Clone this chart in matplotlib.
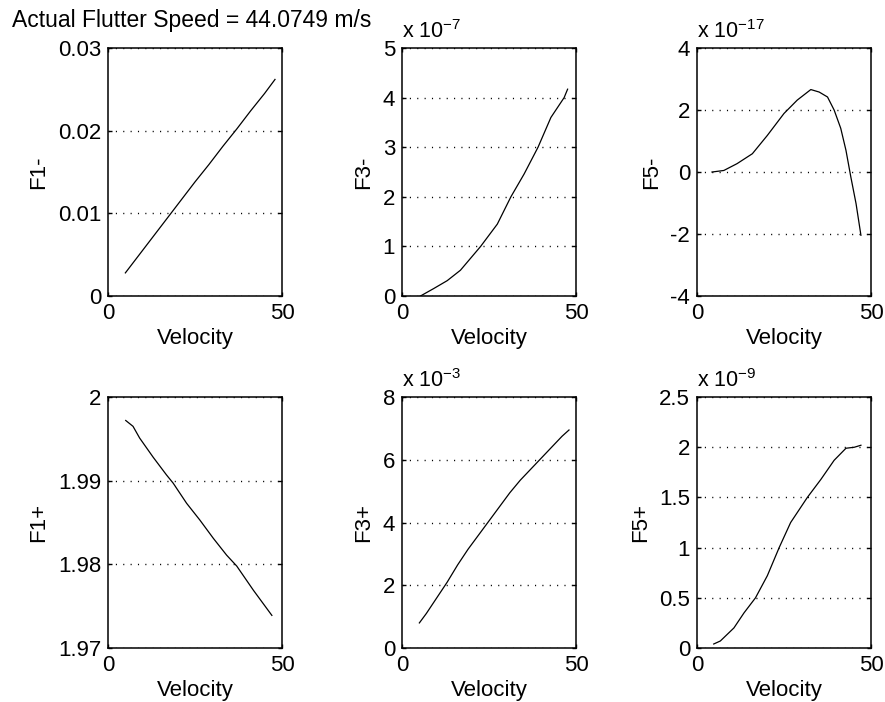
import numpy as np
import matplotlib
matplotlib.use("Agg")
import matplotlib.pyplot as plt

plt.rcParams['font.family'] = ['Liberation Sans', 'DejaVu Sans']
plt.rcParams['font.size'] = 16
plt.rcParams['mathtext.fontset'] = 'custom'
plt.rcParams['mathtext.rm'] = 'Liberation Sans'

title = "Actual Flutter Speed = 44.0749 m/s"

# F1-
v_f1m = [5, 9, 13, 17, 21, 25, 29, 33, 37, 41, 45, 48]
f1m = [0.0028, 0.0050, 0.0072, 0.0094, 0.0116, 0.0138, 0.0159, 0.0181,
       0.0202, 0.0224, 0.0245, 0.0262]

# F3- (x 1e-7)
v_f3m = [5.3, 9.1, 13, 16.8, 22.6, 27.4, 31.3, 35.1, 39.1, 42.8, 46.6, 47.6]
f3m = [0.0, 0.15, 0.31, 0.52, 1.0, 1.45, 2.0, 2.46, 3.0, 3.6, 4.0, 4.17]

# F5- (x 1e-17)
v_f5m = [4.3, 7.7, 11.5, 15.9, 20.2, 25, 28.8, 32.7, 35.1, 37.5, 39.4,
         41.3, 42.8, 44.2, 45.7, 47.1]
f5m = [0.0, 0.05, 0.27, 0.59, 1.18, 1.89, 2.32, 2.66, 2.58, 2.42, 2.0,
       1.41, 0.7, -0.16, -1.02, -2.04]

# F1+
v_f1p = [5.1, 7.2, 9.1, 13, 16.8, 18.75, 22.6, 26.4, 30.3, 34.1, 37, 41.8, 47.1]
f1p = [1.9972, 1.9965, 1.9951, 1.9928, 1.9907, 1.9897, 1.9873, 1.9853,
       1.9831, 1.9811, 1.9798, 1.9769, 1.9739]

# F3+ (x 1e-3)
v_f3p = [5, 7, 10, 13, 16, 19, 22, 25, 28, 31, 34, 37, 40, 43, 46, 48]
f3p = [0.8, 1.1, 1.6, 2.1, 2.65, 3.15, 3.6, 4.05, 4.5, 4.95, 5.35, 5.7,
       6.05, 6.4, 6.75, 6.95]

# F5+ (x 1e-9)
v_f5p = [4.8, 6.7, 10.6, 13.5, 16.8, 20.2, 23.6, 26.9, 31.7, 35.6, 39.4,
         42.8, 45.2, 47.1]
f5p = [0.04, 0.07, 0.2, 0.35, 0.5, 0.72, 1.0, 1.25, 1.5, 1.68, 1.87,
       1.99, 2.0, 2.02]

panels = [
    (v_f1m, f1m, "F1-", [0, 0.01, 0.02, 0.03], ["0", "0.01", "0.02", "0.03"], None),
    (v_f3m, f3m, "F3-", [0, 1, 2, 3, 4, 5], None, "-7"),
    (v_f5m, f5m, "F5-", [-4, -2, 0, 2, 4], None, "-17"),
    (v_f1p, f1p, "F1+", [1.97, 1.98, 1.99, 2.0], ["1.97", "1.98", "1.99", "2"], None),
    (v_f3p, f3p, "F3+", [0, 2, 4, 6, 8], None, "-3"),
    (v_f5p, f5p, "F5+", [0, 0.5, 1, 1.5, 2, 2.5], None, "-9"),
]

lefts = [0.1220, 0.4542, 0.7876]
rows = [(0.5783, 0.3533), (0.0769, 0.3575)]
width = 0.1966

fig = plt.figure(figsize=(8.85, 7.02), dpi=100)

for i, (v, f, name, yt, ytl, expo) in enumerate(panels):
    bottom, height = rows[i // 3]
    ax = fig.add_axes([lefts[i % 3], bottom, width, height])
    ax.plot(v, f, color='k', lw=0.9)
    ax.set_xlim(0, 50)
    ax.set_xticks([0, 50])
    ax.set_ylim(yt[0], yt[-1])
    ax.set_yticks(yt)
    if ytl is None:
        ytl = ['%g' % t for t in yt]
    ax.set_yticklabels(ytl)
    ax.yaxis.grid(True, color='k', linewidth=1.0, linestyle=(0, (0.8, 4.5)))
    ax.tick_params(direction='in', length=3, width=1, pad=5,
                   top=True, right=True)
    for s in ax.spines.values():
        s.set_linewidth(1.1)
    ax.set_xlabel("Velocity", labelpad=3)
    ax.set_ylabel(name, labelpad=6)
    if expo is not None:
        ax.text(0.0, 1.02, r'x 10$^{\mathregular{%s}}$' % expo,
                transform=ax.transAxes, ha='left', va='bottom', fontsize=15.5)

fig.text(0.0136, 0.9715, title, ha='left', va='center', fontsize=16.5)

fig.savefig("out.png", dpi=100)
